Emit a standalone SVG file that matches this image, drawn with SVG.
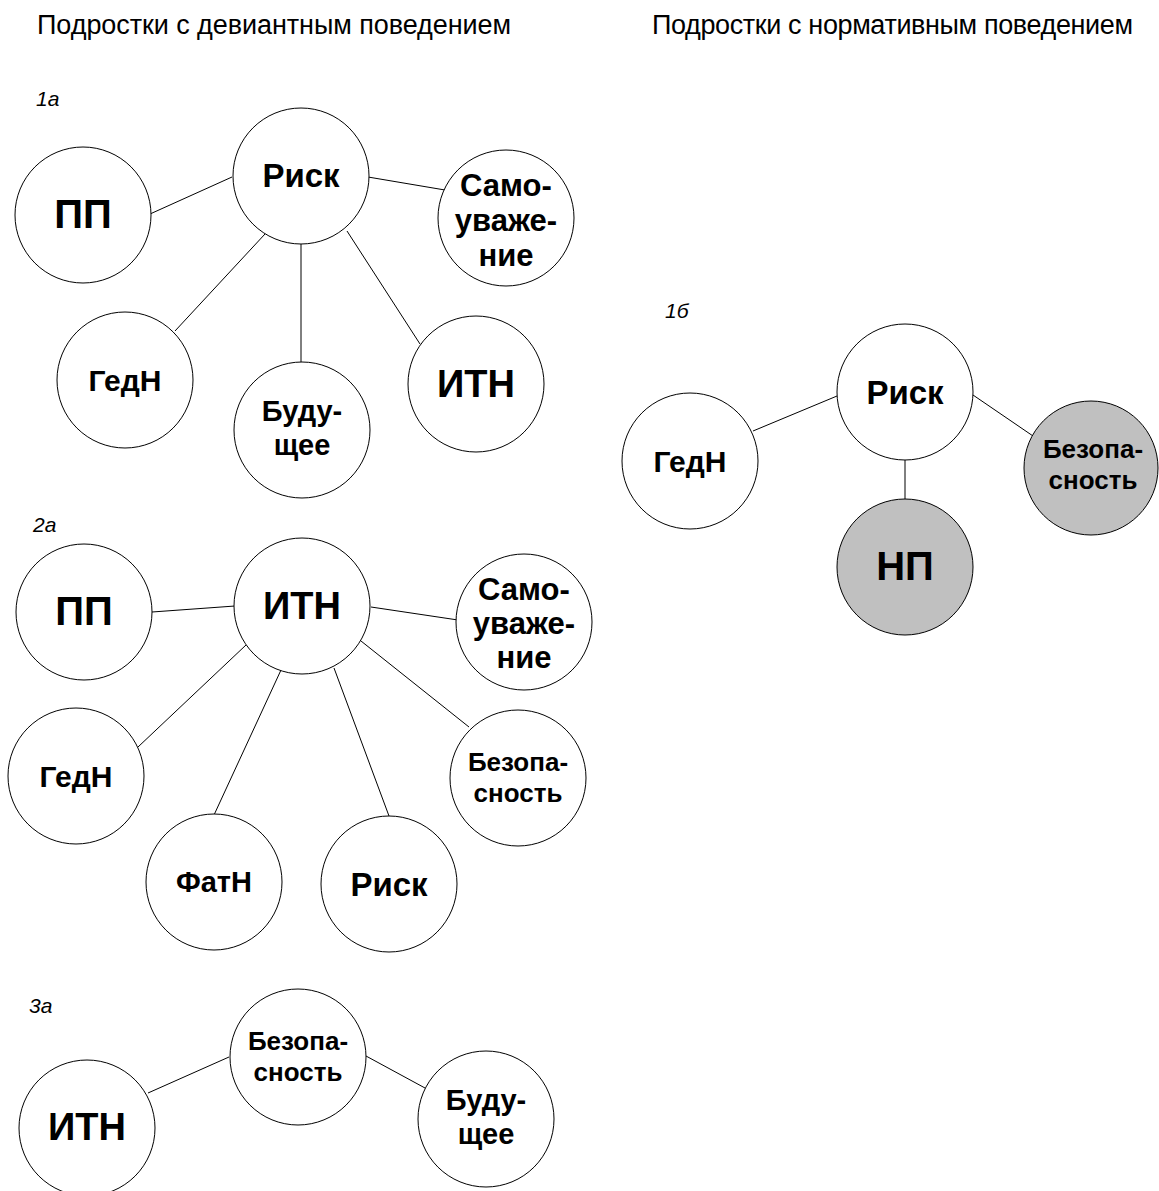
<svg xmlns="http://www.w3.org/2000/svg" width="1159" height="1191" viewBox="0 0 1159 1191">
<style>
text{font-family:"Liberation Sans",Arial,sans-serif;fill:#000}
.title{font-size:27px}
.lab{font-size:21px;font-style:italic}
.n circle{fill:#fff;stroke:#000;stroke-width:1}
.n.g circle{fill:#c0c0c0}
.n text{font-weight:bold;text-anchor:middle}
.big{font-size:40px}
.itn{font-size:38px}
.risk{font-size:33px}
.mid{font-size:30px}
.fut{font-size:29px}
.self{font-size:31px}
.sml{font-size:26px}
#edges line{stroke:#000;stroke-width:1}
</style>
<rect width="1159" height="1191" fill="#fff"/>
<text class="title" x="37" y="34" textLength="474">Подростки с девиантным поведением</text>
<text class="title" x="652" y="34" textLength="481">Подростки с нормативным поведением</text>
<text class="lab" x="36" y="106">1а</text>
<text class="lab" x="33" y="532">2а</text>
<text class="lab" x="29" y="1013">3а</text>
<text class="lab" x="665" y="318">1б</text>
<g id="edges">
<line x1="150" y1="214" x2="232" y2="177"/>
<line x1="368" y1="177" x2="445" y2="190"/>
<line x1="265" y1="234" x2="175" y2="331"/>
<line x1="301" y1="244" x2="301" y2="362"/>
<line x1="347" y1="231" x2="420" y2="344"/>
<line x1="152" y1="612" x2="235" y2="606"/>
<line x1="371" y1="607" x2="458" y2="620"/>
<line x1="246" y1="645" x2="138" y2="747"/>
<line x1="281" y1="670" x2="214" y2="815"/>
<line x1="334" y1="668" x2="389" y2="816"/>
<line x1="361" y1="641" x2="469" y2="727"/>
<line x1="148" y1="1093" x2="229" y2="1057"/>
<line x1="366" y1="1056" x2="425" y2="1088"/>
<line x1="753" y1="431" x2="837" y2="396"/>
<line x1="973" y1="395" x2="1033" y2="436"/>
<line x1="905" y1="460" x2="905" y2="500"/>
</g>
<g id="a1-pp" class="n"><circle cx="83" cy="215" r="68"/><text class="big" x="83" y="228">ПП</text></g>
<g id="a1-risk" class="n"><circle cx="301" cy="176" r="68"/><text class="risk" x="301" y="187">Риск</text></g>
<g id="a1-self" class="n"><circle cx="506" cy="218" r="68"/><text class="self" x="506" y="196">Само-</text><text class="self" x="506" y="231">уваже-</text><text class="self" x="506" y="266">ние</text></g>
<g id="a1-hed" class="n"><circle cx="125" cy="380" r="68"/><text class="mid" x="125" y="391">ГедН</text></g>
<g id="a1-fut" class="n"><circle cx="302" cy="430" r="68"/><text class="fut" x="302" y="421">Буду-</text><text class="fut" x="302" y="455">щее</text></g>
<g id="a1-itn" class="n"><circle cx="476" cy="384" r="68"/><text class="itn" x="476" y="397">ИТН</text></g>
<g id="a2-pp" class="n"><circle cx="84" cy="612" r="68"/><text class="big" x="84" y="625">ПП</text></g>
<g id="a2-itn" class="n"><circle cx="302" cy="606" r="68"/><text class="itn" x="302" y="619">ИТН</text></g>
<g id="a2-self" class="n"><circle cx="524" cy="622" r="68"/><text class="self" x="524" y="600">Само-</text><text class="self" x="524" y="634">уваже-</text><text class="self" x="524" y="668">ние</text></g>
<g id="a2-hed" class="n"><circle cx="76" cy="776" r="68"/><text class="mid" x="76" y="787">ГедН</text></g>
<g id="a2-safe" class="n"><circle cx="518" cy="778" r="68"/><text class="sml" x="518" y="771">Безопа-</text><text class="sml" x="518" y="802">сность</text></g>
<g id="a2-fat" class="n"><circle cx="214" cy="882" r="68"/><text class="fut" x="214" y="892">ФатН</text></g>
<g id="a2-risk" class="n"><circle cx="389" cy="884" r="68"/><text class="risk" x="389" y="896">Риск</text></g>
<g id="a3-itn" class="n"><circle cx="87" cy="1128" r="68"/><text class="itn" x="87" y="1140">ИТН</text></g>
<g id="a3-safe" class="n"><circle cx="298" cy="1057" r="68"/><text class="sml" x="298" y="1050">Безопа-</text><text class="sml" x="298" y="1081">сность</text></g>
<g id="a3-fut" class="n"><circle cx="486" cy="1119" r="68"/><text class="fut" x="486" y="1110">Буду-</text><text class="fut" x="486" y="1144">щее</text></g>
<g id="b1-hed" class="n"><circle cx="690" cy="461" r="68"/><text class="mid" x="690" y="472">ГедН</text></g>
<g id="b1-risk" class="n"><circle cx="905" cy="392" r="68"/><text class="risk" x="905" y="404">Риск</text></g>
<g id="b1-safe" class="n g"><circle cx="1091" cy="468" r="67"/><text class="sml" x="1093" y="458">Безопа-</text><text class="sml" x="1093" y="489">сность</text></g>
<g id="b1-np" class="n g"><circle cx="905" cy="567" r="68"/><text class="big" x="905" y="580">НП</text></g>
</svg>
